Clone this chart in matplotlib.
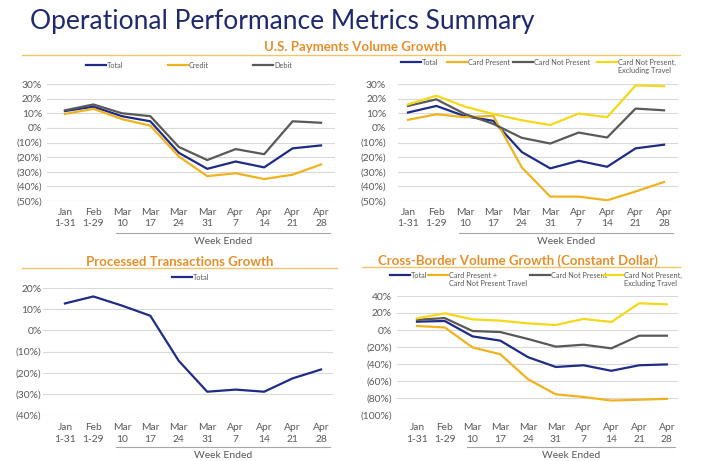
import matplotlib.pyplot as plt
from matplotlib.legend import Legend
from matplotlib.ticker import FuncFormatter
import matplotlib.transforms as mtrans

plt.rcParams['font.family'] = ['Lato', 'DejaVu Sans']

W, H = 710, 461

weeks = ['Jan\n1-31', 'Feb\n1-29', 'Mar\n10', 'Mar\n17', 'Mar\n24',
         'Mar\n31', 'Apr\n7', 'Apr\n14', 'Apr\n21', 'Apr\n28']

# U.S. payments volume growth (%)
us_total = [11.5, 14.5, 8, 4.5, -17, -28, -23, -27, -14, -12]
us_credit = [9.5, 13, 6, 1.5, -19.5, -33, -31, -35, -32, -25]
us_debit = [12, 16, 10, 8, -13, -22, -14.5, -18, 4.5, 3.5]

# U.S. payments by channel (%)
ch_total = [10.5, 15, 8, 4.8, -16.5, -27.7, -22.5, -26.6, -14, -11.5]
ch_cp = [5.5, 9.3, 7.3, 8.2, -27, -47, -47, -49.5, -43.5, -37]
ch_cnp = [15, 19.5, 9.5, 2.7, -6.8, -10.7, -3.2, -6.6, 13.2, 12]
ch_cnp_ex = [16, 22, 14.5, 9.5, 5.2, 2, 9.8, 7.3, 29, 28.5]

# processed transactions growth (%)
tx_total = [12.7, 16, 11.7, 6.9, -14.4, -29, -28, -29, -22.7, -18.5]

# cross-border volume growth, constant dollar (%)
xb_total = [9.8, 10.6, -7.5, -12.5, -32, -43.5, -41.5, -48, -41.5, -40.5]
xb_cp_travel = [4.7, 3, -20.5, -28.5, -58, -75.7, -78.8, -83, -82, -81]
xb_cnp = [12, 14, -1.2, -2.4, -10.6, -19.6, -17.3, -21.6, -6.7, -6.7]
xb_cnp_ex = [13.7, 19.6, 12.5, 11, 7.8, 5.9, 13, 9.4, 31.4, 30.2]

NAVY = '#1f2c86'
GOLD = '#f0b31e'
YELLOW = '#f5d817'
GRAY = '#595959'
ORANGE = '#e68f2a'
TXT = '#595959'
LEG_FS = 5.3


def pct(v, pos=None):
    return f'{v:.0f}%' if v >= 0 else f'({-v:.0f}%)'


def box(x0, y0, x1, y1):
    return [x0 / W, 1 - y1 / H, (x1 - x0) / W, (y1 - y0) / H]


fig = plt.figure(figsize=(W / 100, H / 100), dpi=100)

fig.text(30 / W, 1 - 22 / H, 'Operational Performance Metrics Summary',
         fontsize=19, color='#1f2a6e', va='center', ha='left')

# legend labels that wrap onto a second line, filled in after drawing
wrapped = []


def section(title, xc, y, x0, x1, yl):
    fig.text(xc / W, 1 - y / H, title, fontsize=9.5, fontweight='bold',
             color=ORANGE, ha='center', va='center')
    fig.add_artist(plt.Line2D([x0 / W, x1 / W], [1 - yl / H, 1 - yl / H],
                              color='#f2c46a', lw=1.0))


def panel(rect, xlim, ylim, step, ypad, series, leg_y, leg_xs, tpad):
    ax = fig.add_axes(box(*rect))
    x = range(len(weeks))
    for (vals, color, label), lx in zip(series, leg_xs):
        first, _, more = label.partition('\n')
        line, = ax.plot(x, vals, color=color, lw=1.6, solid_joinstyle='round')
        # one legend entry per series, placed where the reference has it
        leg = Legend(ax, [line], [first], loc='center left', frameon=False,
                     fontsize=LEG_FS, handlelength=2.7, handletextpad=0.15,
                     borderpad=0, borderaxespad=0,
                     bbox_to_anchor=(lx / W, 1 - leg_y / H),
                     bbox_transform=fig.transFigure)
        t = leg.get_texts()[0]
        t.set_color(TXT)
        if more:
            wrapped.append((t, more))
        ax.add_artist(leg)
    ax.set_xlim(*xlim)
    ax.set_ylim(*ylim)
    ax.set_yticks(range(ylim[0], ylim[1] + 1, step))
    ax.yaxis.set_major_formatter(FuncFormatter(pct))
    ax.set_xticks(list(x))
    ax.set_xticklabels(weeks, linespacing=1.35)
    ax.grid(axis='y', color='#d9d9d9', lw=0.8)
    ax.set_axisbelow(True)
    for s in ax.spines.values():
        s.set_visible(False)
    ax.tick_params(axis='both', length=0, labelsize=7.4, labelcolor=TXT)
    ax.tick_params(axis='y', pad=ypad)
    ax.tick_params(axis='x', pad=tpad)

    # "Week Ended" bracket line under the weekly labels
    tr = mtrans.blended_transform_factory(ax.transData, ax.transAxes)
    h = rect[3] - rect[1]
    ly = -32 / h
    ax.plot([1.8, 9.3], [ly, ly], color='#a6a6a6', lw=0.8,
            transform=tr, clip_on=False)
    ax.text(5.55, ly - 8 / h, 'Week Ended', transform=tr, ha='center',
            va='center', fontsize=7.5, color=TXT)
    return ax


section('U.S. Payments Volume Growth', 355, 47, 22, 680, 55)
section('Processed Transactions Growth', 180, 262, 22, 337, 268)
section('Cross-Border Volume Growth (Constant Dollar)', 518, 261, 362, 680, 267)

panel((47, 84, 335, 201), (-0.63, 9.49), (-50, 30), 10, 3.5,
      [(us_total, NAVY, 'Total'), (us_credit, GOLD, 'Credit'),
       (us_debit, GRAY, 'Debit')],
      65, [86, 168, 253], 5)

panel((398, 84, 678, 201), (-0.35, 9.49), (-50, 30), 10, 8.5,
      [(ch_total, NAVY, 'Total'), (ch_cp, GOLD, 'Card Present'),
       (ch_cnp, GRAY, 'Card Not Present'),
       (ch_cnp_ex, YELLOW, 'Card Not Present,\nExcluding Travel')],
      62, [401, 447, 513, 597], 5)

panel((43, 288, 333, 415), (-0.77, 9.42), (-40, 20), 10, 1,
      [(tx_total, NAVY, 'Total')],
      277, [172], 6)

panel((397, 296, 678, 415), (-0.72, 9.4), (-100, 40), 20, 3.6,
      [(xb_total, NAVY, 'Total'),
       (xb_cp_travel, GOLD, 'Card Present +\nCard Not Present Travel'),
       (xb_cnp, GRAY, 'Card Not Present'),
       (xb_cnp_ex, YELLOW, 'Card Not Present,\nExcluding Travel')],
      275, [390, 428, 530, 603], 6)

fig.canvas.draw()
renderer = fig.canvas.get_renderer()
for t, more in wrapped:
    bb = t.get_window_extent(renderer)
    fig.text(bb.x0 / W, (bb.y0 - 1.5) / H, more, va='top', ha='left',
             fontsize=LEG_FS, color=TXT)

fig.savefig('out.png', dpi=100)
